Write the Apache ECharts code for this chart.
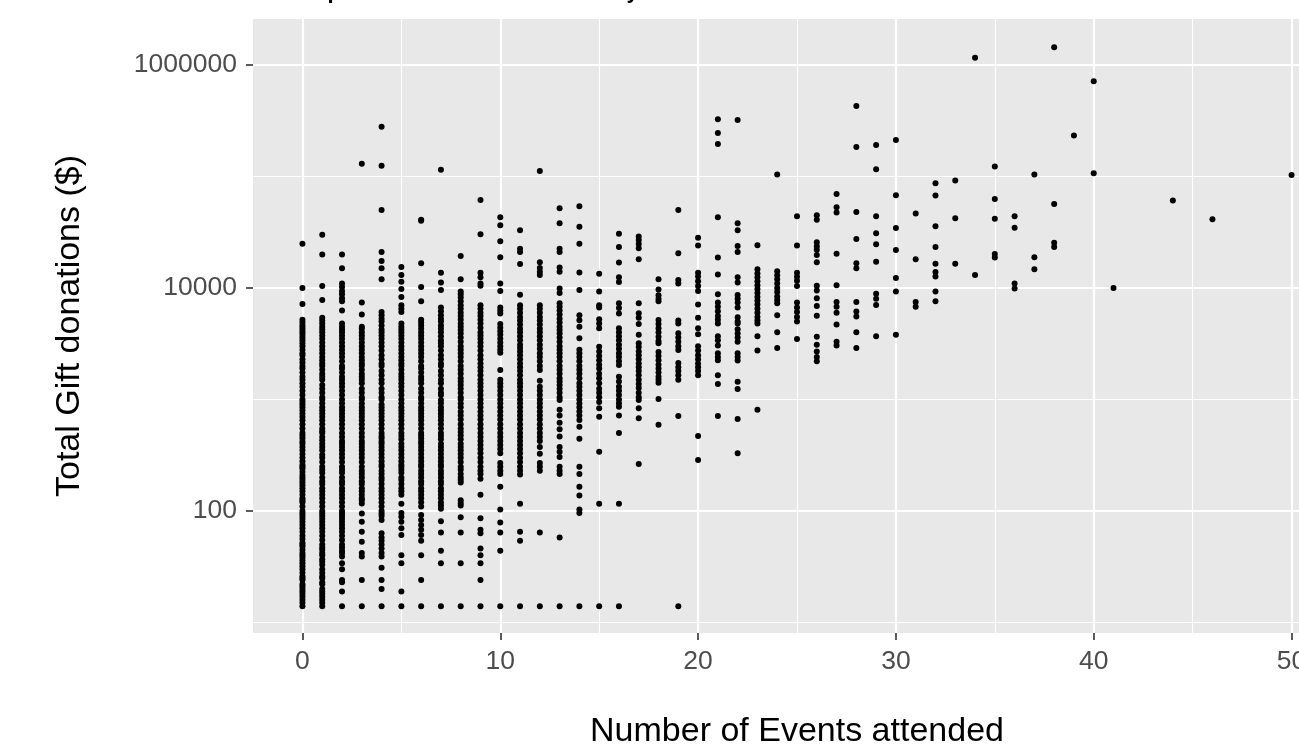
<!DOCTYPE html>
<html>
<head>
<meta charset="utf-8">
<script src="https://cdn.jsdelivr.net/npm/echarts@6/dist/echarts.min.js"></script>
<style>
  html, body { margin: 0; padding: 0; background: #fff; overflow: hidden; }
  #main { width: 1345px; height: 750px; }
</style>
</head>
<body>
<div id="main"></div>
<script>
/*
* Total Gift donations vs number of events attended (log y)
* */
var FONT = '"Liberation Sans", Arial, Helvetica, sans-serif';

// tick positions
var xMajorTicks = [0, 10, 20, 30, 40, 50];
var xMinorTicks = [5, 15, 25, 35, 45];
var yMajorTicks = [100, 10000, 1000000];
var yMinorTicks = [10, 1000, 100000];

// gift totals ($) read per number of events attended
var g0 = [25000, 10000, 7200, 5200, 4900, 4600, 4400, 4200, 4000, 3800, 3600, 3400, 3200, 3000, 2800, 2600, 2500, 2300, 2150, 2000, 1900, 1750, 1600, 1500, 1400, 1300, 1200, 1100, 1000, 950, 900, 850, 800, 750, 700, 650, 600, 550, 500, 475, 450, 420, 400, 375, 350, 325, 300, 280, 260, 250, 240, 225, 210, 200, 190, 180, 170, 160, 150, 140, 130, 125, 120, 110, 100, 95, 90, 85, 80, 75, 70, 65, 60, 56, 52, 50, 48, 45, 42, 40, 38, 36, 34, 32, 30, 28, 26, 25, 24, 22, 21, 20, 19, 18, 17, 16, 15, 14];
var g1 = [30000, 20000, 10400, 7800, 5400, 5100, 4800, 4500, 4250, 4000, 3750, 3500, 3250, 3000, 2800, 2600, 2400, 2250, 2100, 2000, 1850, 1700, 1600, 1500, 1350, 1250, 1150, 1050, 1000, 925, 850, 800, 750, 700, 650, 600, 550, 520, 500, 460, 430, 400, 375, 350, 320, 300, 275, 250, 235, 220, 200, 185, 175, 160, 150, 140, 130, 120, 110, 100, 95, 90, 85, 80, 75, 70, 65, 60, 55, 50, 47, 45, 42, 40, 37, 35, 33, 30, 28, 26, 25, 23, 22, 20, 19, 18, 17, 16, 15, 14];
var g2 = [20000, 15000, 11000, 10200, 9400, 8800, 8100, 7600, 6300, 4800, 4500, 4250, 4000, 3750, 3500, 3250, 3000, 2800, 2600, 2400, 2200, 2000, 1900, 1750, 1600, 1500, 1400, 1300, 1200, 1100, 1000, 925, 850, 800, 750, 700, 650, 600, 550, 500, 460, 425, 400, 375, 350, 325, 300, 275, 250, 235, 220, 200, 185, 175, 160, 150, 140, 130, 120, 110, 100, 95, 90, 85, 80, 75, 70, 65, 60, 55, 50, 47, 44, 42, 39, 34, 30, 24, 23, 19, 14];
var g3 = [130000, 7400, 5800, 4500, 4300, 4000, 3750, 3500, 3250, 3000, 2800, 2600, 2400, 2250, 2100, 2000, 1850, 1700, 1600, 1500, 1400, 1250, 1150, 1050, 1000, 920, 850, 800, 750, 700, 650, 600, 550, 500, 460, 425, 400, 375, 350, 325, 300, 275, 250, 230, 215, 200, 185, 175, 160, 150, 140, 130, 125, 117, 95, 80, 65, 53, 42, 39, 24, 14];
var g4 = [280000, 125000, 50000, 21000, 17500, 15000, 12000, 6100, 5700, 5300, 5000, 4600, 4250, 4000, 3750, 3500, 3250, 3000, 2750, 2500, 2300, 2100, 2000, 1800, 1650, 1500, 1400, 1250, 1150, 1050, 1000, 900, 850, 800, 750, 700, 650, 600, 550, 500, 470, 450, 420, 400, 375, 350, 325, 300, 280, 260, 250, 230, 215, 200, 190, 175, 160, 150, 140, 130, 120, 110, 100, 95, 90, 83, 63, 58, 54, 50, 46, 42, 39, 31, 24, 20, 14];
var g5 = [15400, 13100, 11400, 9800, 8300, 7000, 6500, 6100, 4800, 4500, 4250, 4000, 3750, 3500, 3250, 3000, 2800, 2600, 2400, 2250, 2100, 2000, 1850, 1700, 1600, 1500, 1400, 1300, 1200, 1100, 1000, 925, 850, 800, 750, 700, 650, 600, 550, 500, 470, 440, 400, 375, 350, 325, 300, 280, 260, 250, 235, 220, 200, 190, 175, 160, 150, 140, 116, 96, 89, 80, 70, 61, 40, 34, 19, 14];
var g6 = [41000, 40000, 16700, 10200, 7600, 5200, 4900, 4600, 4300, 4000, 3750, 3500, 3250, 3000, 2800, 2600, 2400, 2200, 2000, 1900, 1750, 1600, 1500, 1400, 1250, 1150, 1050, 1000, 925, 850, 800, 750, 700, 650, 600, 550, 500, 475, 450, 420, 400, 375, 350, 325, 300, 280, 260, 250, 230, 215, 200, 185, 175, 160, 150, 140, 130, 120, 110, 92, 83, 75, 68, 61, 54, 40, 24, 14];
var g7 = [115000, 13700, 11200, 9600, 6700, 6200, 5700, 5300, 5000, 4600, 4300, 4000, 3700, 3400, 3200, 3000, 2750, 2500, 2300, 2100, 2000, 1800, 1650, 1500, 1400, 1250, 1150, 1100, 990, 925, 850, 800, 750, 700, 650, 600, 550, 500, 470, 440, 400, 375, 350, 325, 300, 280, 260, 250, 230, 215, 200, 185, 175, 160, 150, 140, 130, 120, 112, 105, 81, 64, 44, 34, 14];
var g8 = [19400, 12000, 9300, 8800, 8200, 7600, 7000, 6500, 6000, 5600, 5200, 4800, 4500, 4200, 3900, 3600, 3300, 3000, 2800, 2600, 2400, 2200, 2000, 1850, 1700, 1550, 1450, 1350, 1250, 1150, 1050, 1000, 920, 850, 775, 720, 660, 600, 550, 510, 475, 440, 400, 375, 350, 325, 300, 275, 250, 235, 215, 200, 190, 180, 125, 118, 112, 88, 64, 34, 14];
var g9 = [61500, 30400, 13700, 12500, 11000, 10500, 7000, 6500, 6000, 5600, 5200, 4800, 4400, 4000, 3750, 3500, 3250, 3000, 2750, 2500, 2300, 2100, 1950, 1800, 1650, 1500, 1400, 1300, 1200, 1100, 1000, 925, 850, 780, 720, 660, 600, 550, 500, 460, 425, 390, 360, 330, 300, 275, 250, 230, 215, 195, 140, 86, 68, 63, 46, 40, 34, 24, 14];
var g10 = [43000, 36600, 26300, 18900, 11000, 9400, 6700, 6300, 5900, 4750, 4400, 4100, 3800, 3500, 3250, 3000, 2800, 2620, 1840, 1500, 1400, 1300, 1200, 1100, 1000, 925, 850, 780, 720, 660, 600, 550, 500, 460, 425, 390, 360, 330, 270, 250, 230, 215, 165, 103, 79, 64, 44, 14];
var g11 = [33000, 22500, 21000, 16400, 8700, 7000, 6500, 6000, 5500, 5100, 4700, 4300, 4000, 3700, 3400, 3100, 2900, 2700, 2500, 2300, 2100, 1950, 1800, 1650, 1500, 1400, 1300, 1200, 1100, 1000, 925, 850, 780, 720, 660, 600, 550, 500, 460, 425, 390, 360, 330, 300, 275, 250, 230, 212, 116, 65, 54, 14];
var g12 = [112000, 17000, 15100, 14000, 13100, 7000, 6500, 6000, 5500, 5100, 4700, 4300, 4000, 3700, 3400, 3100, 2850, 2600, 2400, 2200, 2000, 1840, 1470, 1300, 1200, 1100, 1000, 925, 850, 780, 720, 660, 600, 550, 500, 460, 425, 375, 327, 270, 250, 230, 64, 14];
var g13 = [52000, 38000, 22500, 21000, 15300, 14000, 9900, 9000, 7300, 6800, 6300, 5800, 5300, 4900, 4500, 4200, 3900, 3600, 3300, 3000, 2800, 2600, 2400, 2200, 2000, 1850, 1700, 1550, 1450, 1350, 1250, 1150, 1050, 990, 810, 720, 620, 540, 466, 375, 340, 305, 250, 230, 215, 58, 14];
var g14 = [54000, 35400, 25000, 13800, 9600, 5700, 5150, 4500, 3550, 2800, 2600, 2400, 2200, 2000, 1850, 1700, 1550, 1400, 1300, 1200, 1100, 1000, 920, 850, 780, 720, 655, 570, 445, 250, 215, 165, 138, 103, 96, 14];
var g15 = [13400, 9300, 7000, 6700, 5250, 4800, 4350, 2970, 2700, 2450, 2250, 2050, 1900, 1700, 1550, 1400, 1250, 1150, 1050, 950, 835, 700, 340, 116, 14];
var g16 = [30600, 23300, 16900, 12500, 11300, 7300, 6600, 5900, 4350, 4000, 3700, 3400, 3100, 2850, 2600, 2400, 2200, 2040, 1600, 1450, 1300, 1200, 1100, 1000, 925, 860, 720, 500, 116, 14];
var g17 = [29000, 27000, 24800, 22700, 18100, 7300, 5930, 5400, 4750, 3800, 3200, 2950, 2700, 2500, 2300, 2100, 1950, 1800, 1650, 1500, 1380, 1270, 1150, 1050, 990, 835, 680, 264];
var g18 = [12000, 9700, 8600, 8000, 7600, 5160, 4750, 4350, 4000, 3650, 3350, 3200, 2670, 2450, 2250, 2050, 1900, 1750, 1600, 1500, 1410, 1010, 595];
var g19 = [50000, 20500, 11800, 11000, 5100, 4800, 3930, 3600, 3300, 3000, 2780, 2120, 1950, 1800, 1650, 1500, 710, 14];
var g20 = [28200, 24100, 13700, 12700, 11500, 10400, 9400, 7100, 5400, 4350, 3850, 3000, 2750, 2500, 2300, 2100, 1950, 1800, 1650, 470, 287];
var g21 = [327000, 245000, 196000, 43000, 18800, 13200, 8800, 7400, 6800, 6200, 5600, 5200, 4800, 3700, 3400, 3050, 2600, 2400, 2250, 1650, 1380, 710];
var g22 = [321000, 38000, 33000, 23800, 21000, 12500, 11200, 8650, 8000, 7400, 6700, 5480, 5000, 4800, 4270, 3900, 3600, 3300, 2600, 2400, 2240, 1440, 1240, 670, 330];
var g23 = [24200, 14700, 13500, 12500, 11500, 10600, 9800, 9000, 8300, 7700, 7100, 6500, 6000, 5500, 5100, 4800, 3700, 2750, 810];
var g24 = [104000, 14100, 13000, 12000, 11000, 10000, 9200, 8400, 7800, 7300, 5700, 4000, 2900];
var g25 = [44000, 24000, 13700, 12600, 11600, 10400, 7400, 6700, 6100, 5500, 5000, 3480];
var g26 = [45000, 41000, 25700, 23700, 22000, 19800, 17000, 10500, 9500, 8100, 6900, 5650, 3650, 3100, 2700, 2400, 2200];
var g27 = [69700, 53000, 47500, 20300, 10600, 7500, 6800, 6000, 4700, 3300, 3050];
var g28 = [429000, 184000, 48000, 27500, 16700, 15000, 7500, 6150, 5550, 4000, 2900];
var g29 = [192000, 116000, 44000, 31000, 24700, 17200, 8900, 8000, 7050, 3700];
var g30 = [212000, 68000, 34500, 21900, 12300, 9300, 3800];
var g31 = [46600, 18100, 7500, 6800];
var g32 = [87000, 67600, 35800, 23300, 16500, 13900, 12700, 9300, 7600];
var g33 = [92000, 42300, 16500];
var g34 = [1160000, 13100];
var g35 = [123000, 63000, 41800, 20200, 18800];
var g36 = [44000, 34700, 11000, 9900];
var g37 = [104000, 18900, 14700];
var g38 = [1440000, 56700, 25500, 23300];
var g39 = [233000];
var g40 = [716000, 107000];
var g41 = [10000];
var g44 = [61000];
var g46 = [41300];
var g50 = [103000];

var eventColumns = [
    [0, g0], [1, g1], [2, g2], [3, g3], [4, g4], [5, g5], [6, g6], [7, g7], [8, g8], [9, g9],
    [10, g10], [11, g11], [12, g12], [13, g13], [14, g14], [15, g15], [16, g16], [17, g17], [18, g18], [19, g19],
    [20, g20], [21, g21], [22, g22], [23, g23], [24, g24], [25, g25], [26, g26], [27, g27], [28, g28], [29, g29],
    [30, g30], [31, g31], [32, g32], [33, g33], [34, g34], [35, g35], [36, g36], [37, g37], [38, g38], [39, g39],
    [40, g40], [41, g41], [44, g44], [46, g46], [50, g50]
];

(function () {
    // the panel runs past the right edge of the picture, so the chart is wider than the window
    var myChart = echarts.init(document.getElementById('main'), null, {renderer: 'canvas'});

    var points = [];
    for (var n = 0; n < eventColumns.length; n++) {
        var x = eventColumns[n][0];
        var gifts = eventColumns[n][1];
        for (var k = 0; k < gifts.length; k++) {
            points.push([x, gifts[k]]);
        }
    }

    // panel range (ggplot style 5% expansion)
    var xMin = -2.5, xMax = 52.5;
    var yMin = 8.05, yMax = 2586000;

    var tickLabel = {
        color: '#4D4D4D',
        fontSize: 26.5,
        fontFamily: FONT
    };
    var titleText = {
        color: '#000',
        fontSize: 34,
        fontFamily: FONT
    };

    var option = {
        animation: false,
        title: {
            text: 'Scatterplot of Total Gift donations by Number of Events attended',
            left: 253,
            top: -19,
            padding: 0,
            textStyle: {
                color: '#000',
                fontSize: 22,
                fontWeight: 'bold',
                fontFamily: FONT
            }
        },
        grid: {
            left: 253,
            top: 19,
            width: 1088,
            height: 614,
            outerBoundsMode: 'none', // keep the panel size fixed (v6 would shrink it to fit the names)
            show: true,
            backgroundColor: '#E8E8E8',
            borderWidth: 0
        },
        xAxis: [
            {
                type: 'value',
                min: xMin,
                max: xMax,
                name: 'Number of Events attended',
                nameLocation: 'middle',
                nameGap: 82,
                nameTextStyle: titleText,
                axisLine: {show: false, onZero: false},
                axisTick: {
                    show: true,
                    length: 7,
                    customValues: xMajorTicks,
                    lineStyle: {color: '#333333', width: 1.6}
                },
                axisLabel: {
                    customValues: xMajorTicks,
                    margin: 15,
                    color: tickLabel.color,
                    fontSize: tickLabel.fontSize,
                    fontFamily: FONT
                },
                splitLine: {show: true, lineStyle: {color: '#FFFFFF', width: 2.2}}
            },
            {
                // minor grid lines
                type: 'value',
                min: xMin,
                max: xMax,
                axisLine: {show: false, onZero: false},
                axisTick: {show: false, customValues: xMinorTicks},
                axisLabel: {show: false},
                splitLine: {show: true, lineStyle: {color: '#FFFFFF', width: 1.1}}
            }
        ],
        yAxis: [
            {
                type: 'log',
                logBase: 10,
                min: yMin,
                max: yMax,
                name: 'Total Gift donations ($)',
                nameLocation: 'middle',
                nameGap: 166,
                nameTextStyle: titleText,
                axisLine: {show: false, onZero: false},
                axisTick: {
                    show: true,
                    length: 7,
                    customValues: yMajorTicks,
                    lineStyle: {color: '#333333', width: 1.6}
                },
                axisLabel: {
                    customValues: yMajorTicks,
                    margin: 16,
                    color: tickLabel.color,
                    fontSize: tickLabel.fontSize,
                    fontFamily: FONT,
                    formatter: function (value) {
                        return String(Math.round(value));
                    }
                },
                splitLine: {show: true, lineStyle: {color: '#FFFFFF', width: 2.2}}
            },
            {
                type: 'log',
                logBase: 10,
                min: yMin,
                max: yMax,
                axisLine: {show: false, onZero: false},
                axisTick: {show: false, customValues: yMinorTicks},
                axisLabel: {show: false},
                splitLine: {show: true, lineStyle: {color: '#FFFFFF', width: 1.1}}
            }
        ],
        series: [
            {
                name: 'gifts',
                type: 'scatter',
                xAxisIndex: 0,
                yAxisIndex: 0,
                symbol: 'circle',
                symbolSize: 6,
                itemStyle: {color: '#000000', opacity: 1},
                emphasis: {disabled: true},
                data: points
            }
        ]
    };

    myChart.setOption(option);
})();
</script>
</body>
</html>
